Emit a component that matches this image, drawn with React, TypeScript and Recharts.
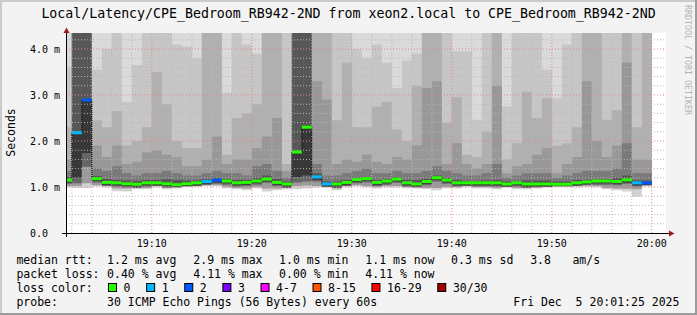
import React from "react";
import { ComposedChart, Area, Line, XAxis, YAxis, ReferenceLine, CartesianGrid } from "recharts";

const W = 697;
const H = 315;
const MONO = "'DejaVu Sans Mono', monospace";

// ---- data (minutes after 19:00, one column per minute) ----
const minutes = [
  1, 2, 3, 4, 5, 6, 7, 8, 9, 10,
  11, 12, 13, 14, 15, 16, 17, 18, 19, 20,
  21, 22, 23, 24, 25, 26, 27, 28, 29, 30,
  31, 32, 33, 34, 35, 36, 37, 38, 39, 40,
  41, 42, 43, 44, 45, 46, 47, 48, 49, 50,
  51, 52, 53, 54, 55, 56, 57, 58, 59,
];
const END_MINUTE = 60;
const DOMAIN_START = 1 + 25 / 60; // 19:01:25
const DOMAIN_END = 61 + 25 / 60; // 20:01:25
const Y_MAX = 4.348;

// median rtt (ms)
const medianRtt = [
  1.15, 2.18, 2.89, 1.18, 1.1, 1.09, 1.07, 1.06, 1.09, 1.09,
  1.07, 1.05, 1.07, 1.09, 1.12, 1.15, 1.13, 1.09, 1.1, 1.13,
  1.17, 1.1, 1.065, 1.76, 2.3, 1.22, 1.065, 1.065, 1.1, 1.16,
  1.18, 1.1, 1.13, 1.17, 1.09, 1.065, 1.12, 1.2, 1.15, 1.09,
  1.09, 1.09, 1.09, 1.09, 1.065, 1.09, 1.065, 1.065, 1.065, 1.06,
  1.06, 1.09, 1.11, 1.13, 1.13, 1.12, 1.155, 1.09, 1.09,
];
// lost pings per minute
const lossCount = [
  0, 1, 2, 0, 0, 0, 0, 0, 0, 0,
  0, 0, 0, 0, 1, 2, 0, 0, 0, 0,
  0, 0, 0, 0, 0, 1, 1, 0, 0, 0,
  0, 0, 0, 0, 0, 0, 0, 0, 0, 0,
  0, 0, 0, 0, 0, 0, 0, 0, 0, 0,
  0, 0, 0, 0, 0, 0, 0, 1, 2,
];
// smoke levels below the median (ms)
const smokeLo = [
  0.99, 0.98, 0.98, 1.01, 0.99, 0.91, 0.9, 0.95, 0.95, 0.99,
  0.95, 0.97, 1.0, 1.0, 1.02, 1.02, 0.97, 0.95, 0.93, 0.97,
  0.9, 0.93, 0.95, 0.95, 0.97, 0.99, 0.99, 0.93, 0.99, 1.01,
  0.99, 0.97, 0.99, 0.99, 0.97, 0.97, 0.95, 0.93, 0.97, 0.97,
  0.99, 0.97, 0.97, 0.95, 0.99, 0.95, 0.95, 0.97, 0.99, 1.0,
  1.0, 0.99, 1.0, 0.99, 0.95, 0.93, 0.9, 0.79, 1.01,
];
const smokeL1 = [
  1.02, 1.02, 1.08, 1.04, 1.02, 0.97, 0.97, 0.98, 0.98, 1.02,
  0.98, 0.99, 1.01, 1.02, 1.04, 1.04, 1.0, 0.98, 0.97, 1.0,
  0.97, 0.97, 0.98, 1.02, 1.03, 1.02, 1.0, 0.97, 1.02, 1.04,
  1.02, 1.0, 1.02, 1.02, 1.0, 0.99, 0.98, 0.98, 1.0, 1.0,
  1.02, 1.0, 1.0, 0.98, 1.0, 0.98, 0.98, 0.99, 1.0, 1.01,
  1.01, 1.02, 1.03, 1.02, 0.98, 0.97, 0.96, 0.95, 1.03,
];
const smokeL2 = [
  1.07, 1.08, 1.44, 1.1, 1.02, 1.01, 0.99, 0.98, 1.01, 1.02,
  0.99, 0.99, 1.01, 1.02, 1.04, 1.07, 1.05, 1.01, 1.02, 1.05,
  1.09, 1.02, 0.98, 1.1, 1.12, 1.12, 1.0, 0.98, 1.02, 1.08,
  1.1, 1.02, 1.05, 1.09, 1.01, 0.99, 1.04, 1.12, 1.07, 1.01,
  1.02, 1.01, 1.01, 1.01, 1.0, 1.01, 0.98, 0.99, 1.0, 1.01,
  1.01, 1.02, 1.03, 1.05, 1.05, 1.04, 1.07, 1.01, 1.03,
];
const smokeL3 = [
  1.1, 1.2, 1.74, 1.13, 1.05, 1.04, 1.02, 1.01, 1.04, 1.04,
  1.02, 1.0, 1.02, 1.04, 1.07, 1.1, 1.08, 1.04, 1.05, 1.08,
  1.12, 1.05, 1.01, 1.22, 1.25, 1.16, 1.01, 1.01, 1.05, 1.11,
  1.13, 1.05, 1.08, 1.12, 1.04, 1.01, 1.07, 1.15, 1.1, 1.04,
  1.04, 1.04, 1.04, 1.04, 1.01, 1.04, 1.01, 1.01, 1.01, 1.01,
  1.01, 1.04, 1.06, 1.08, 1.08, 1.07, 1.1, 1.04, 1.05,
];
// smoke levels above the median (ms)
const smokeU1 = [
  1.22, 5, 5, 1.24, 1.18, 1.15, 1.14, 1.13, 1.15, 1.15,
  1.17, 1.15, 1.14, 1.14, 1.17, 1.2, 1.18, 1.15, 1.15, 1.2,
  1.25, 1.18, 1.12, 5, 5, 1.3, 1.12, 1.12, 1.15, 1.2,
  1.22, 1.15, 1.18, 1.22, 1.15, 1.15, 1.18, 1.25, 1.2, 1.15,
  1.13, 1.13, 1.14, 1.15, 1.12, 1.13, 1.14, 1.14, 1.14, 1.12,
  1.12, 1.15, 1.15, 1.17, 1.17, 1.2, 1.25, 1.14, 1.14,
];
const smokeU2 = [
  1.35, 5, 5, 1.4, 1.35, 1.45, 1.3, 1.25, 1.3, 1.3,
  1.35, 1.3, 1.25, 1.25, 1.3, 1.35, 1.3, 1.3, 1.25, 1.45,
  1.5, 1.35, 1.2, 5, 5, 1.5, 1.25, 1.25, 1.3, 1.35,
  1.4, 1.3, 1.3, 1.35, 1.3, 1.3, 1.35, 1.45, 1.35, 1.3,
  1.25, 1.25, 1.3, 1.5, 1.2, 1.25, 1.3, 1.3, 1.3, 1.2,
  1.25, 1.3, 1.35, 1.35, 1.35, 1.4, 1.95, 1.3, 1.3,
];
const smokeU3 = [
  1.6, 5, 5, 1.9, 1.65, 1.9, 1.5, 1.55, 1.75, 1.8,
  1.7, 1.65, 1.45, 1.45, 1.6, 2.1, 1.5, 1.6, 1.6, 1.85,
  2.1, 2.5, 1.35, 5, 5, 3.3, 2.9, 1.5, 1.6, 1.55,
  1.7, 1.55, 1.5, 1.65, 1.6, 1.9, 3.15, 3.3, 1.5, 1.95,
  1.5, 1.4, 1.5, 3.2, 1.3, 1.45, 1.5, 1.7, 1.85, 1.3,
  1.5, 1.65, 3.3, 2.0, 1.65, 1.9, 3.7, 1.6, 1.6,
];
const smokeU4 = [
  2.3, 5, 5, 2.45, 2.3, 2.65, 1.9, 2.0, 2.3, 3.5,
  2.8, 2.0, 1.85, 1.85, 4.6, 4.6, 1.7, 2.5, 2.6, 2.8,
  4.6, 4.6, 1.5, 5, 5, 4.6, 4.6, 2.45, 3.7, 2.3,
  2.3, 2.75, 2.85, 2.25, 2.0, 3.2, 4.6, 4.6, 2.4, 2.95,
  1.7, 1.65, 2.2, 4.6, 1.6, 1.95, 3.07, 2.5, 2.93, 1.9,
  1.95, 2.3, 4.6, 4.6, 2.46, 2.67, 4.6, 2.3, 4.6,
];
const smokeU5 = [
  3.6, 5, 5, 3.55, 4.0, 4.6, 2.85, 3.65, 4.6, 4.6,
  4.6, 4.1, 4.05, 3.8, 4.7, 4.7, 3.05, 4.6, 4.1, 3.9,
  4.7, 4.7, 4.6, 5, 5, 4.7, 4.7, 4.6, 4.6, 4.0,
  3.8, 4.1, 3.7, 3.15, 3.75, 3.9, 4.7, 4.7, 4.6, 3.95,
  3.95, 2.46, 4.6, 4.7, 2.75, 4.6, 4.6, 4.6, 3.55, 2.93,
  4.1, 4.6, 4.7, 4.7, 4.6, 4.6, 4.7, 4.6, 4.7,
];
const smokeCeiling = 5; // slowest pings of every minute are above the scale

const xTicks = [10, 20, 30, 40, 50, 60];
const xTickLabels = ["19:10", "19:20", "19:30", "19:40", "19:50", "20:00"];
const yTicks = [0, 1, 2, 3, 4];
const yTickLabels = ["0.0", "1.0 m", "2.0 m", "3.0 m", "4.0 m"];

const lossBins = [
  { label: "0", max: 0, color: "#26ff00" },
  { label: "1", max: 1, color: "#00b8ff" },
  { label: "2", max: 2, color: "#0059ff" },
  { label: "3", max: 3, color: "#7e00ff" },
  { label: "4-7", max: 7, color: "#ff00ff" },
  { label: "8-15", max: 15, color: "#ff5500" },
  { label: "16-29", max: 29, color: "#ff0000" },
  { label: "30/30", max: 30, color: "#a00000" },
];

const TITLE = "Local/Latency/CPE_Bedroom_RB942-2ND from xeon2.local to CPE_Bedroom_RB942-2ND";
const statsRtt = ["median rtt:", "1.2 ms avg", "2.9 ms max", "1.0 ms min", "1.1 ms now", "0.3 ms sd", "3.8", "am/s"];
const statsLoss = ["packet loss:", "0.40 % avg", "4.11 % max", "0.00 % min", "4.11 % now"];
const probeText = ["probe:", "30 ICMP Echo Pings (56 Bytes) every 60s", "Fri Dec  5 20:01:25 2025"];

// ---- build table ----
const rows = minutes.map((t, i) => ({
  t,
  lo: smokeLo[i],
  l1: smokeL1[i],
  l2: smokeL2[i],
  l3: smokeL3[i],
  med: medianRtt[i],
  u1: smokeU1[i],
  u2: smokeU2[i],
  u3: smokeU3[i],
  u4: smokeU4[i],
  u5: smokeU5[i],
  top: smokeCeiling,
}));
const lastRow = rows[rows.length - 1];
const data = [...rows, { ...lastRow, t: END_MINUTE }];

const lossColor = (n: number) => {
  for (const b of lossBins) if (n <= b.max) return b.color;
  return lossBins[lossBins.length - 1].color;
};

// painting order: highest level first, each filled from 0
const smokeLayers = [
  { key: "top", color: "#dadada" },
  { key: "u5", color: "#c6c6c6" },
  { key: "u4", color: "#b0b0b0" },
  { key: "u3", color: "#989898" },
  { key: "u2", color: "#7a7a7a" },
  { key: "u1", color: "#575757" },
  { key: "med", color: "#383838" },
  { key: "l3", color: "#666666" },
  { key: "l2", color: "#9a9a9a" },
  { key: "l1", color: "#d2d2d2" },
  { key: "lo", color: "#ffffff" },
];

const minorY: number[] = [];
for (let k = 1; k < 22; k++) if (k % 5 !== 0) minorY.push(k / 5);
const minorX: number[] = [];
for (let m = 2; m <= 60; m += 2) if (m % 10 !== 0) minorX.push(m);

const YTick = (props: any) => {
  const i = yTicks.indexOf(props.payload.value);
  return (
    <text x={30} y={props.y + 3.5} fontFamily={MONO} fontSize={10} fill="#000" textAnchor="start" style={{ whiteSpace: "pre" }}>
      {yTickLabels[i]}
    </text>
  );
};
const XTick = (props: any) => {
  const i = xTicks.indexOf(props.payload.value);
  return (
    <text x={props.x} y={246.5} fontFamily={MONO} fontSize={10} fill="#000" textAnchor="middle">
      {xTickLabels[i]}
    </text>
  );
};

const CW = 6.93; // legend char width
const rttX = [16.4, 107.1, 193.3, 279.1, 365.3, 451.1, 530.2, 572.4];
const lossX = [16.4, 107.1, 193.3, 279.1, 365.3];
const probeX = [16.4, 107.1, 513.3];

export default function App() {
  const legendBoxes: { x: number; label: string; color: string }[] = [];
  let bx = 108;
  for (const b of lossBins) {
    legendBoxes.push({ x: bx, label: b.label, color: b.color });
    bx = bx + 15.6 + b.label.length * CW + 15.6;
  }
  const txt = { fontFamily: MONO, fill: "#000", style: { whiteSpace: "pre" as const } };

  return (
    <div style={{ position: "absolute", left: 0, top: 0, width: W, height: H, background: "#f3f3f3" }}>
      <ComposedChart width={W} height={H} data={data} margin={{ top: 33, right: 31, bottom: 62, left: 0 }}>
        <CartesianGrid horizontal={false} vertical={false} fill="#ffffff" stroke="none" />
        <XAxis
          dataKey="t"
          type="number"
          domain={[DOMAIN_START, DOMAIN_END]}
          allowDataOverflow
          ticks={xTicks}
          interval={0}
          axisLine={false}
          tickLine={false}
          tick={<XTick />}
          height={20}
        />
        <YAxis
          type="number"
          domain={[0, Y_MAX]}
          allowDataOverflow
          ticks={yTicks}
          interval={0}
          axisLine={false}
          tickLine={false}
          tick={<YTick />}
          width={66}
        />
        {smokeLayers.map((l) => (
          <Area
            key={l.key}
            dataKey={l.key}
            type="stepAfter"
            stroke="none"
            fill={l.color}
            fillOpacity={1}
            dot={false}
            activeDot={false}
            isAnimationActive={false}
          />
        ))}
        {minorY.map((v) => (
          <ReferenceLine key={"my" + v} y={v} stroke="#b8b8b8" strokeDasharray="1 2" ifOverflow="hidden" />
        ))}
        {minorX.map((v) => (
          <ReferenceLine key={"mx" + v} x={v} stroke="#b8b8b8" strokeDasharray="1 2" ifOverflow="hidden" />
        ))}
        {yTicks.filter((v) => v > 0).map((v) => (
          <ReferenceLine key={"My" + v} y={v} stroke="#e08888" strokeDasharray="1 2" ifOverflow="hidden" />
        ))}
        {xTicks.map((v) => (
          <ReferenceLine key={"Mx" + v} x={v} stroke="#e08888" strokeDasharray="1 2" ifOverflow="hidden" />
        ))}
        <Line
          dataKey="med"
          type="stepAfter"
          stroke="#000000"
          strokeWidth={1}
          strokeDasharray="1 1"
          dot={false}
          activeDot={false}
          isAnimationActive={false}
        />
        {minutes.map((t, i) => (
          <ReferenceLine
            key={"med" + t}
            segment={[
              { x: t, y: medianRtt[i] },
              { x: i + 1 < minutes.length ? minutes[i + 1] : END_MINUTE, y: medianRtt[i] },
            ]}
            stroke={lossColor(lossCount[i])}
            strokeWidth={3}
            ifOverflow="hidden"
          />
        ))}
      </ComposedChart>

      <svg width={W} height={H} style={{ position: "absolute", left: 0, top: 0, pointerEvents: "none" }}>
        {/* frame */}
        <rect x={0} y={0} width={W} height={2} fill="#cbcbcb" />
        <rect x={0} y={0} width={2} height={H} fill="#cbcbcb" />
        <rect x={W - 2} y={0} width={2} height={H} fill="#9c9c9c" />
        <rect x={0} y={H - 2} width={W} height={2} fill="#9c9c9c" />

        <text x={348.5} y={18} textAnchor="middle" fontSize={13.25} {...txt}>
          {TITLE}
        </text>
        <text transform="translate(685,5) rotate(90)" fontSize={8.3} fontFamily={MONO} fill="#b4b4b4">
          RRDTOOL / TOBI OETIKER
        </text>
        <text transform="translate(15,132.5) rotate(-90)" textAnchor="middle" fontSize={11.5} {...txt}>
          Seconds
        </text>

        {/* axes */}
        <line x1={62} y1={233.5} x2={669} y2={233.5} stroke="#000" strokeWidth={1} />
        <polygon points="669,230.5 669,236.5 674.5,233.5" fill="#9b1c1c" />
        <line x1={66.5} y1={237} x2={66.5} y2={33} stroke="#000" strokeWidth={1} />
        <polygon points="63.5,33 69.5,33 66.5,27.5" fill="#9b1c1c" />

        {/* legend */}
        {statsRtt.map((s, i) => (
          <text key={"r" + i} x={rttX[i]} y={264} fontSize={11.5} {...txt}>
            {s}
          </text>
        ))}
        {statsLoss.map((s, i) => (
          <text key={"l" + i} x={lossX[i]} y={278} fontSize={11.5} {...txt}>
            {s}
          </text>
        ))}
        <text x={16.4} y={292} fontSize={11.5} {...txt}>
          loss color:
        </text>
        {legendBoxes.map((b) => (
          <g key={b.label}>
            <rect x={b.x + 0.5} y={283.5} width={8} height={8} fill={b.color} stroke="#000" strokeWidth={1} />
            <text x={b.x + 15.6} y={292} fontSize={11.5} {...txt}>
              {b.label}
            </text>
          </g>
        ))}
        {probeText.map((s, i) => (
          <text key={"p" + i} x={probeX[i]} y={305.5} fontSize={11.5} {...txt}>
            {s}
          </text>
        ))}
      </svg>
    </div>
  );
}
